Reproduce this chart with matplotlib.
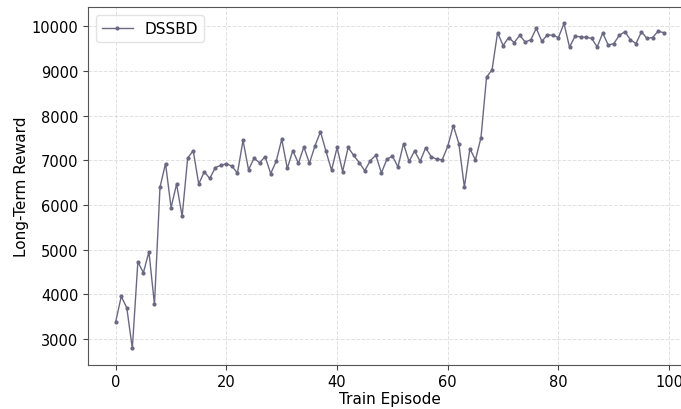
import numpy as np
import matplotlib
matplotlib.use('Agg')
from matplotlib import pyplot as plt

# rewards, one per episode 0..99
episodes = list(range(100))
rewards = [
    3390, 3955, 3700, 2790, 4730, 4485, 4955, 3775, 6400, 6930,
    5945, 6470, 5745, 7050, 7220, 6470, 6745, 6595, 6840, 6890,
    6925, 6870, 6715, 7450, 6790, 7050, 6945, 7085, 6705, 6980,
    7475, 6820, 7220, 6935, 7300, 6935, 7325, 7640, 7200, 6780,
    7290, 6750, 7290, 7110, 6950, 6770, 6995, 7115, 6720, 7025,
    7095, 6855, 7375, 6975, 7210, 6980, 7280, 7085, 7025, 7015,
    7315, 7780, 7375, 6400, 7260, 7010, 7510, 8860, 9030, 9860,
    9570, 9750, 9635, 9800, 9650, 9700, 9955, 9665, 9810, 9800,
    9750, 10065, 9535, 9780, 9765, 9755, 9730, 9540, 9850, 9580,
    9615, 9800, 9880, 9700, 9615, 9875, 9730, 9750, 9890, 9860,
]

fig = plt.figure(figsize=(6.81, 4.10), dpi=100)
# axes run past the right edge, the reference is cropped there
ax = fig.add_axes([0.1297, 0.108, 0.885, 0.872])

ax.plot(episodes, rewards, color='#6b6883', linewidth=1.0,
        marker='o', markersize=2.0, label='DSSBD')

ax.set_xlabel('Train Episode', fontsize=11, labelpad=1)
ax.set_ylabel('Long-Term Reward', fontsize=11, labelpad=2)
ax.tick_params(labelsize=10.5, color='#444444')
ax.set_xticks([0, 20, 40, 60, 80, 100])
ax.set_yticks(range(3000, 10001, 1000))
ax.grid(True, linestyle='--', color='#cccccc', alpha=0.6, linewidth=0.7)
for s in ax.spines.values():
    s.set_color('#555555')

ax.legend(loc='upper left', fontsize=11, framealpha=0.8, edgecolor='#dddddd')

plt.savefig('out.png', dpi=100)
